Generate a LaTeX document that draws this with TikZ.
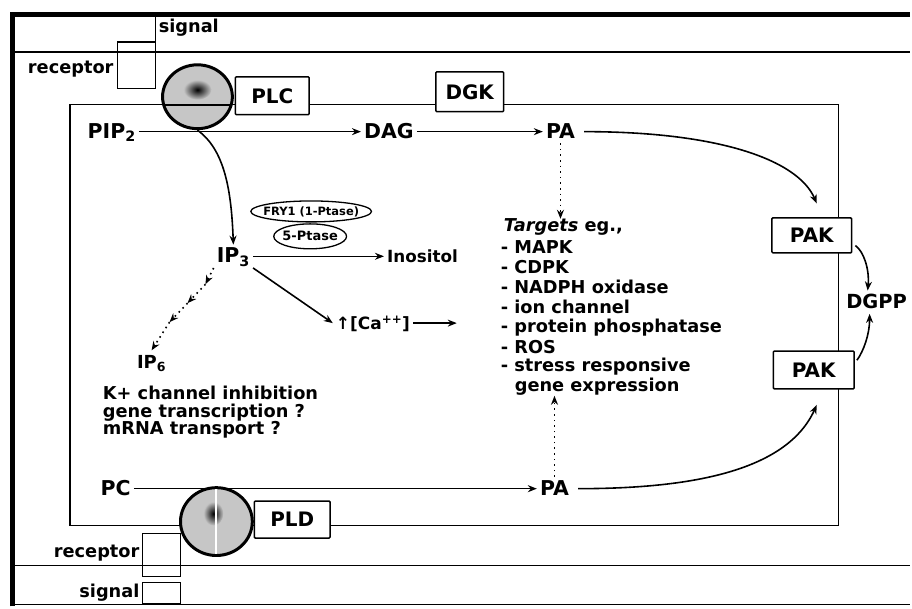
\documentclass[tikz,border=0pt]{standalone}
\usepackage{fontspec}
\setmainfont{DejaVu Sans}
\usetikzlibrary{arrows.meta, positioning, shapes.geometric, calc}

\begin{document}
\begin{tikzpicture}[x=1pt, y=-1pt,
  metab/.style={font=\fontsize{20.5}{22}\selectfont\bfseries, inner sep=3pt, text height=15pt, text depth=2pt},
  enz/.style={draw, line width=1.5pt, fill=white, rounded corners=1pt, font=\fontsize{20}{22}\selectfont\bfseries},
  txt/.style={font=\fontsize{17.8}{20}\selectfont\bfseries, inner sep=0pt},
  arr/.style={-{Stealth[length=9pt, width=7pt]}, line width=1.6pt},
  dotarr/.style={arr, dash pattern=on 1.6pt off 4pt}]

  \fill[white] (0,0) rectangle (912,608);
  % frame, membranes, cell
  \draw[line width=5pt] (13,608) -- (13,15) -- (912,15);
  \draw[line width=1.3pt] (13,606) -- (912,606);
  \draw[line width=1.5pt] (13,52) -- (912,52) (13,567) -- (912,567);
  \draw[line width=1.5pt] (70,105) rectangle (841,527);

  % receptors
  \draw[line width=1.3pt] (118,42) rectangle (156,89) (156,42) -- (156,17);
  \node[txt, anchor=east] (rec1) at (114,69) {receptor};
  \node[txt, anchor=west] (sig1) at (159,28) {signal};
  \draw[line width=1.3pt] (143,535) rectangle (181,578) (143,584) rectangle (181,605);
  \node[txt, anchor=east] (rec2) at (140,555) {receptor};
  \node[txt, anchor=east] (sig2) at (140,594) {signal};

  % phospholipases
  \node[draw, ellipse, line width=3pt, fill=gray!45, minimum width=70, minimum height=64] (plcball) at (198,97) {};
  \shade[inner color=black, outer color=gray!45] (198,90) ellipse (14 and 10);
  \draw[line width=2pt] ($(plcball.center)+(-34,8)$) -- ($(plcball.center)+(34,8)$);
  \node[draw, ellipse, line width=3pt, fill=gray!45, minimum width=72, minimum height=68] (pldball) at (217,523) {};
  \shade[inner color=black, outer color=gray!45] (214,515) ellipse (10 and 12);
  \draw[white, line width=2pt] ($(pldball.north)+(0,3)$) -- ($(pldball.south)+(0,-3)$);

  \node[enz, minimum width=74, minimum height=38] (plc) at (273,96) {PLC};
  \node[enz, minimum width=68, minimum height=40] (dgk) at (471,92) {DGK};
  \node[enz, minimum width=76, minimum height=37] (pld) at (293,521) {PLD};
  \node[enz, minimum width=80, minimum height=35] (pak1) at (814,236) {PAK};
  \node[enz, minimum width=81, minimum height=38] (pak2) at (816,371) {PAK};

  % lipids and messengers
  \node[metab] (pip2) at (112,132) {PIP\textsubscript{2}};
  \node[metab] (dag) at (390,132) {DAG};
  \node[metab] (paT) at (562,132) {PA};
  \node[metab] (ip3) at (234,257) {IP\textsubscript{3}};
  \node[metab, font=\fontsize{16.8}{18}\selectfont\bfseries, anchor=west] (inos) at (385,257) {Inositol};
  \node[metab, font=\fontsize{18}{20}\selectfont\bfseries] (ip6) at (152,363) {IP\textsubscript{6}};
  \node[metab, font=\fontsize{17}{19}\selectfont\bfseries] (ca) at (374,324) {↑[Ca\textsuperscript{++}]};
  \node[metab] (pc) at (116,490) {PC};
  \node[metab] (paB) at (556,490) {PA};
  \node[metab, font=\fontsize{19.5}{21}\selectfont\bfseries] (dgpp) at (879,303) {DGPP};

  \node[font=\fontsize{11.5}{12}\selectfont\bfseries, inner sep=0pt] (fry) at (312,212) {FRY1 (1-Ptase)};
  \draw[line width=1.3pt] (fry.center) ellipse (60.5 and 10.5);
  \node[font=\fontsize{13}{14}\selectfont\bfseries, inner sep=0pt] (ptase) at (311,237) {5-Ptase};
  \draw[line width=1.3pt] (ptase.center) ellipse (36.5 and 12.5);

  \node[txt, anchor=north west, align=left, font=\fontsize{17.8}{17.5}\selectfont\bfseries] (kplus) at (103,387)
    {K+ channel inhibition\\gene transcription ?\\mRNA transport ?};

  % targets
  \node[txt, anchor=west] (tgt) at (505,228) {\textit{Targets} eg.,};
  \foreach \t [count=\i] in {MAPK, CDPK, NADPH oxidase, ion channel, protein phosphatase, ROS, stress responsive}
    \node[txt, anchor=west] (t\i) at (502,{228+20*\i}) {- \t};
  \node[txt, anchor=west] (t8) at (516,388) {gene expression};

  % pathways
  \coordinate (pak1in) at (819,204);
  \coordinate (pak2in) at (819,406);
  \coordinate (caend) at (458,324);
  \coordinate (d1) at (206,285);
  \coordinate (d2) at (188,304);
  \coordinate (d3) at (170,323);

  \draw[arr] (pip2) -- (dag);
  \draw[arr] (dag) -- (paT);
  \draw[arr] ($(paT.east)+(6,0)$) .. controls (720,132) and (800,160) .. (pak1in);
  \draw[arr] (pc) -- (paB);
  \draw[arr] ($(paB.east)+(6,0)$) .. controls (700,490) and (790,470) .. (pak2in);
  \draw[arr] (plcball.south) .. controls (225,150) and (232,190) .. (ip3.north);
  \draw[arr] (ip3.east) -- (inos.west);
  \draw[arr] (ip3.south east) -- (ca.west);
  \draw[arr] (ca.east) -- (caend);
  \draw[dotarr] (ip3.south west) -- (d1);
  \draw[dotarr] (d1) -- (d2);
  \draw[dotarr] (d2) -- (d3);
  \draw[dotarr] (d3) -- (ip6.north);
  \draw[dotarr] (paT.south) -- (paT.south |- tgt.north);
  \draw[dotarr] (paB.north) -- (paB.north |- t8.south);
  \draw[arr] ($(pak1.south east)+(3,-8)$) .. controls (866,252) and (872,270) .. ($(dgpp.north)+(-9,0)$);
  \draw[arr] ($(pak2.north east)+(2,10)$) .. controls (866,352) and (872,335) .. ($(dgpp.south)+(-7,0)$);
\end{tikzpicture}
\end{document}
